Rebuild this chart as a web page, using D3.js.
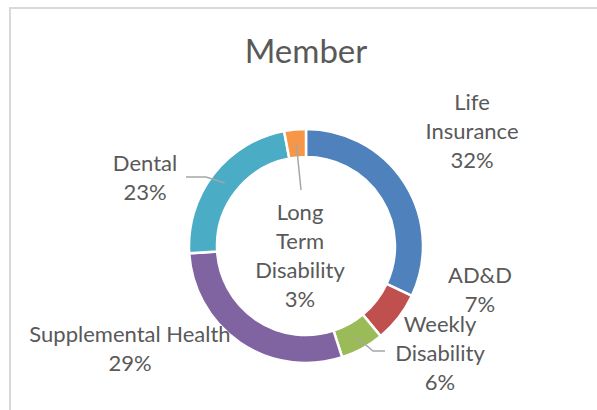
<!DOCTYPE html>
<html>
<head>
<meta charset="utf-8">
<script src="https://cdn.jsdelivr.net/npm/d3@7"></script>
<style>
    body { margin: 0; background: #fff; }
    text { font-family: Lato, "Noto Sans", sans-serif; fill: #595959; }
</style>
</head>
<body>
<div id="chart"></div>
<script>
// data
const categories = ['Life Insurance', 'AD&D', 'Weekly Disability', 'Supplemental Health', 'Dental', 'Long Term Disability'];
const values = [32, 7, 6, 29, 23, 3];
const colors = ['#4f81bd', '#c0504d', '#9bbb59', '#8064a2', '#4bacc6', '#f79646'];
const labelLines = [
    ['Life', 'Insurance'],
    ['AD&D'],
    ['Weekly', 'Disability'],
    ['Supplemental Health'],
    ['Dental'],
    ['Long', 'Term', 'Disability']
];

// label placement (x centre, baseline of first line), leader-line knee
const labelPos = [
    { x: 472, y: 110 },
    { x: 480, y: 283 },
    { x: 440, y: 332, leader: [[373, 351], [385, 351]] },
    { x: 130, y: 342 },
    { x: 145, y: 171, leader: [[206, 177], [186, 177]] },
    { x: 300, y: 220, leader: [[301, 190]] }
];

const width = 597, height = 410;
const cx = 306, cy = 246;
const outerR = 117, innerR = 89;
const lineH = 29;

const svg = d3.select('#chart').append('svg')
    .attr('width', width)
    .attr('height', height);

// chart frame (right and bottom edges fall outside)
svg.append('rect')
    .attr('x', 10).attr('y', 8)
    .attr('width', 800).attr('height', 600)
    .attr('fill', 'none')
    .attr('stroke', '#d9d9d9')
    .attr('stroke-width', 2);

svg.append('text')
    .attr('x', 306).attr('y', 63)
    .attr('text-anchor', 'middle')
    .style('font-size', '33px')
    .text('Member');

const pie = d3.pie().sort(null).value(d => d.value);
const arc = d3.arc().innerRadius(innerR).outerRadius(outerR);

const data = categories.map((c, i) => ({ name: c, value: values[i], color: colors[i], lines: labelLines[i], pos: labelPos[i] }));
const arcs = pie(data);

const g = svg.append('g').attr('transform', `translate(${cx},${cy})`);

g.selectAll('path.slice')
    .data(arcs)
    .join('path')
    .attr('class', 'slice')
    .attr('d', arc)
    .attr('fill', d => d.data.color)
    .attr('stroke', '#fff')
    .attr('stroke-width', 2.5);

// leader lines
const line = d3.line();
arcs.filter(d => d.data.pos.leader).forEach(d => {
    const c = arc.centroid(d);
    const pts = [[c[0] + cx, c[1] + cy]].concat(d.data.pos.leader);
    svg.append('path')
        .attr('d', line(pts))
        .attr('fill', 'none')
        .attr('stroke', '#a6a6a6')
        .attr('stroke-width', 1.5);
});

// labels
arcs.forEach(d => {
    const p = d.data.pos;
    const lines = d.data.lines.concat([d.data.value + '%']);
    const t = svg.append('text')
        .attr('text-anchor', 'middle')
        .style('font-size', '22px');
    lines.forEach((l, i) => {
        t.append('tspan').attr('x', p.x).attr('y', p.y + i * lineH).text(l);
    });
});
</script>
</body>
</html>
